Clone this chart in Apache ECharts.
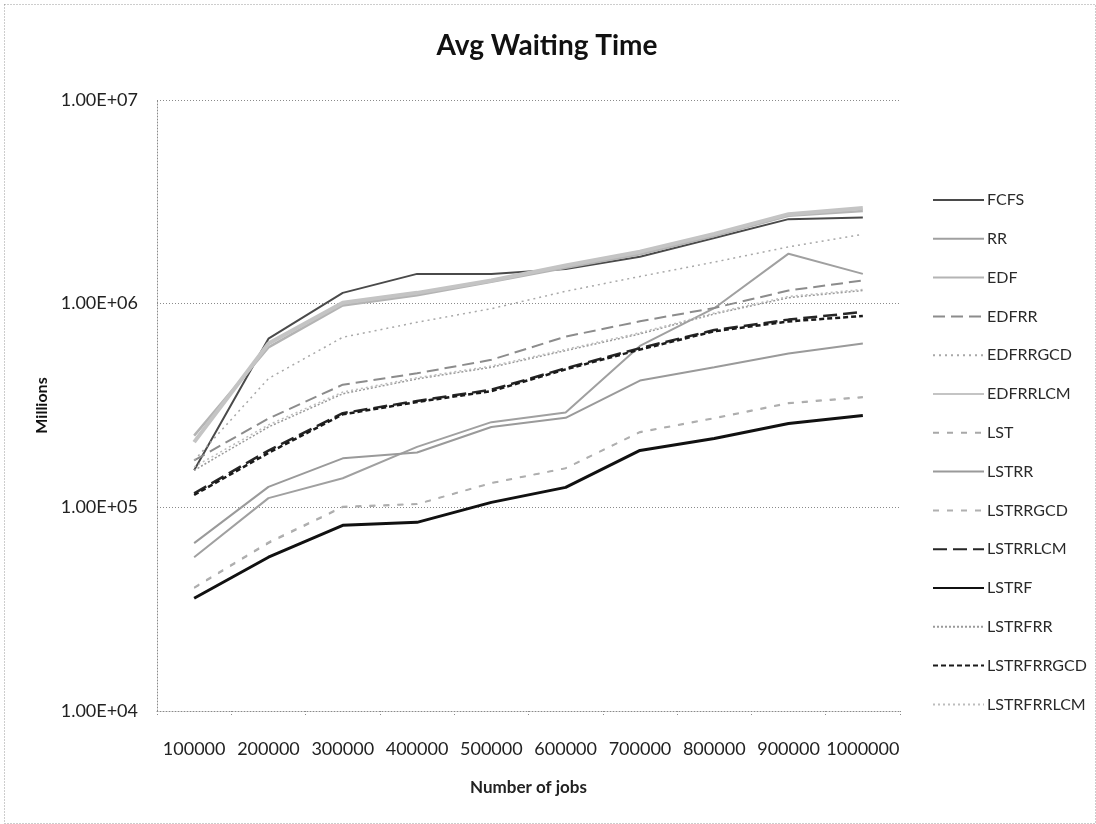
<!DOCTYPE html>
<html>
<head>
<meta charset="utf-8">
<script src="https://cdn.jsdelivr.net/npm/echarts@6/dist/echarts.min.js"></script>
<style>
html,body{margin:0;padding:0;background:#fff;}
#chart{width:1096px;height:824px;}
</style>
</head>
<body>
<div id="chart"></div>
<script>
const categories = ['100000','200000','300000','400000','500000','600000','700000','800000','900000','1000000'];
const seriesNames = ['FCFS','RR','EDF','EDFRR','EDFRRGCD','EDFRRLCM','LST','LSTRR','LSTRRGCD','LSTRRLCM','LSTRF','LSTRFRR','LSTRFRRGCD','LSTRFRRLCM'];

const FCFS       = [152000, 673000, 1130000, 1400000, 1400000, 1480000, 1700000, 2100000, 2600000, 2650000];
const RR         = [56900, 111000, 139000, 198000, 262000, 292000, 620000, 950000, 1760000, 1400000];
const EDF        = [225000, 610000, 980000, 1100000, 1280000, 1500000, 1750000, 2150000, 2700000, 2850000];
const EDFRR      = [170000, 273000, 400000, 455000, 530000, 689000, 819000, 953000, 1160000, 1300000];
const EDFRRGCD   = [170000, 429000, 684000, 810000, 945000, 1150000, 1360000, 1600000, 1900000, 2190000];
const EDFRRLCM   = [209000, 637000, 1010000, 1130000, 1300000, 1540000, 1800000, 2200000, 2750000, 2950000];
const LST        = [40100, 66600, 100000, 103500, 131200, 155300, 233300, 273000, 323500, 346000];
const LSTRR      = [66700, 126000, 174000, 186000, 248000, 275000, 419000, 487000, 569000, 637000];
const LSTRRGCD   = [40500, 67500, 101000, 104000, 132000, 156000, 235000, 275000, 326000, 349000];
const LSTRRLCM   = [117000, 190000, 290000, 333000, 378000, 482000, 605000, 742000, 835000, 910000];
const LSTRF      = [35800, 56900, 81600, 84400, 105800, 125300, 190300, 217900, 258000, 282500];
const LSTRFRR    = [152000, 248000, 361000, 427000, 487000, 588000, 710000, 890000, 1070000, 1160000];
const LSTRFRRGCD = [115000, 185000, 286000, 329000, 372000, 476000, 595000, 732000, 818000, 870000];
const LSTRFRRLCM = [158000, 254000, 368000, 433000, 494000, 596000, 720000, 900000, 1085000, 1175000];

const dataByName = {FCFS, RR, EDF, EDFRR, EDFRRGCD, EDFRRLCM, LST, LSTRR, LSTRRGCD, LSTRRLCM, LSTRF, LSTRFRR, LSTRFRRGCD, LSTRFRRLCM};

const styles = {
  FCFS:       {color:'#4a4a4a', width:2,   type:'solid'},
  RR:         {color:'#a0a0a0', width:2,   type:'solid'},
  EDF:        {color:'#b4b4b4', width:2.5, type:'solid'},
  EDFRR:      {color:'#8c8c8c', width:2,   type:[12,6]},
  EDFRRGCD:   {color:'#a8a8a8', width:1.5, type:[2,4]},
  EDFRRLCM:   {color:'#c4c4c4', width:4,   type:'solid'},
  LST:        {color:'#a8a8a8', width:1.5, type:[6,8]},
  LSTRR:      {color:'#9a9a9a', width:2,   type:'solid'},
  LSTRRGCD:   {color:'#b0b0b0', width:1.5, type:[6,8]},
  LSTRRLCM:   {color:'#262626', width:2.5, type:[14,6]},
  LSTRF:      {color:'#111111', width:3,   type:'solid'},
  LSTRFRR:    {color:'#9a9a9a', width:1.5, type:[2,2]},
  LSTRFRRGCD: {color:'#1a1a1a', width:2.5, type:[5,3]},
  LSTRFRRLCM: {color:'#bdbdbd', width:1.5, type:[2,3]}
};

function fmtExp(v){
  const parts = Number(v).toExponential(2).split('e');
  let e = parseInt(parts[1],10);
  const sign = e < 0 ? '-' : '+';
  e = Math.abs(e);
  return parts[0] + 'E' + sign + (e < 10 ? '0' + e : e);
}

const fontFam = 'Lato, "Open Sans", sans-serif';

const chart = echarts.init(document.getElementById('chart'), null, {renderer:'canvas'});
chart.setOption({
  backgroundColor:'#ffffff',
  animation:false,
  title:{
    text:'Avg Waiting Time',
    left:542, top:27, textAlign:'center',
    textStyle:{fontFamily:fontFam, fontSize:28, fontWeight:'bold', color:'#111'}
  },
  graphic:[{
    type:'rect', left:2, top:2, silent:true,
    shape:{width:1091, height:819},
    style:{fill:'none', stroke:'#9a9a9a', lineWidth:1, lineDash:[1,2]}
  }],
  legend:{
    orient:'vertical',
    left:927, top:187,
    itemWidth:51, itemHeight:14, itemGap:22.8,
    itemStyle:{opacity:0},
    textStyle:{fontFamily:fontFam, fontSize:16, lineHeight:16, color:'#2a2a2a', padding:[0,0,0,-2]},
    data:seriesNames
  },
  grid:{left:157, right:196, top:100, bottom:113, containLabel:false},
  xAxis:{
    type:'category',
    data:categories,
    boundaryGap:true,
    name:'Number of jobs',
    nameLocation:'middle',
    nameGap:68,
    nameTextStyle:{fontFamily:fontFam, fontSize:17, fontWeight:'bold', color:'#222'},
    axisLine:{lineStyle:{color:'#8a8a8a', type:[1,2], width:1}},
    axisTick:{show:true, alignWithLabel:false, length:6, lineStyle:{color:'#8a8a8a', type:[1,2]}},
    axisLabel:{fontFamily:fontFam, fontSize:18, color:'#222', margin:29, interval:0}
  },
  yAxis:{
    type:'log',
    logBase:10,
    min:10000,
    max:10000000,
    name:'Millions',
    nameLocation:'middle',
    nameGap:107,
    nameRotate:90,
    nameTextStyle:{fontFamily:fontFam, fontSize:16, fontWeight:'bold', color:'#111'},
    axisLine:{show:true, lineStyle:{color:'#8a8a8a', type:[1,2], width:1}},
    axisTick:{show:false},
    axisLabel:{fontFamily:fontFam, fontSize:18, color:'#222', margin:19, formatter:fmtExp},
    splitLine:{show:true, lineStyle:{color:'#8a8a8a', type:[1,2], width:1}},
    minorTick:{show:false}
  },
  series: seriesNames.map(n => ({
    name:n,
    type:'line',
    data:dataByName[n],
    symbol:'none',
    showSymbol:false,
    smooth:false,
    itemStyle:{color:styles[n].color},
    lineStyle:{color:styles[n].color, width:styles[n].width, type:styles[n].type}
  }))
});
</script>
</body>
</html>
